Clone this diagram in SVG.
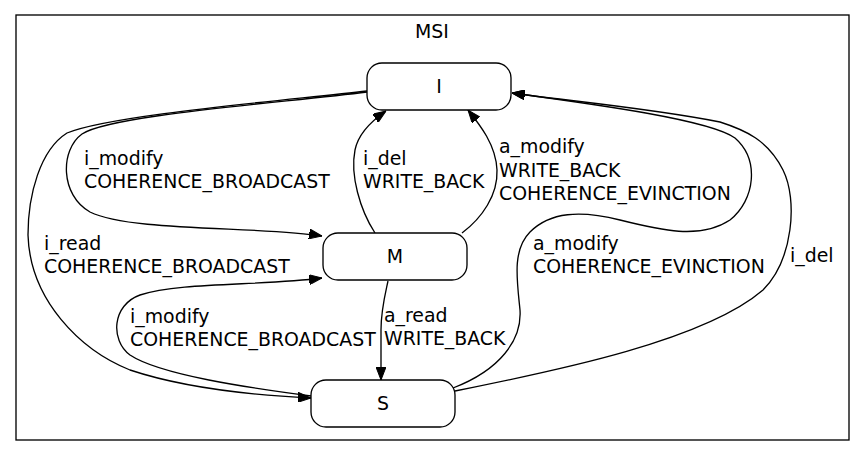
<svg xmlns="http://www.w3.org/2000/svg" width="865" height="456" viewBox="0 0 865 456">
<style>
text{font-family:"DejaVu Sans","Liberation Sans",sans-serif;font-size:18.9px;fill:#000}
.node rect{fill:#fff;stroke:#000;stroke-width:1.33}
.node text{text-anchor:middle}
#edges path{fill:none;stroke:#000;stroke-width:1.33;marker-end:url(#arr)}
.cluster{fill:none;stroke:#000;stroke-width:1.33}
</style>
<defs>
<marker id="arr" viewBox="0 0 13 10" refX="13" refY="5" markerWidth="13" markerHeight="10" markerUnits="userSpaceOnUse" orient="auto">
<path d="M0,0 L13,5 L0,10 z" fill="#000" stroke="#000" stroke-width="1"/>
</marker>
</defs>
<rect width="865" height="456" fill="#fff"/>
<g id="cluster_MSI">
<rect class="cluster" x="16" y="15" width="833" height="425"/>
<text x="432" y="38" text-anchor="middle">MSI</text>
</g>
<g id="edges">
<path d="M367,91 C280,101 110,115 67,133 C40,150 28,195 28,235 C30,300 80,350 130,370 C190,390 270,396 311,398"/>
<path d="M367,92 C280,103 110,115 82,134 C60,150 60,195 90,212 C130,232 260,226 322,236"/>
<path d="M311,396 C250,388 160,375 130,355 C110,340 112,305 140,295 C180,282 260,286 322,278"/>
<path d="M375,233 C360,210 350,175 355,150 C358,135 370,122 386,111"/>
<path d="M462,233 C482,218 498,195 497,170 C496,145 480,125 468,110"/>
<path d="M388,281 C385,295 381,310 381,330 L381,380"/>
<path d="M453,388 C500,370 522,340 520,310 C517,280 512,250 530,232 C550,212 580,210 620,220 C660,230 700,240 730,220 C755,200 760,160 735,138 C710,120 600,105 512,93"/>
<path d="M455,391 C560,370 705,340 763,290 C793,260 798,200 783,170 C768,140 745,130 720,122 C650,108 560,100 512,93"/>
</g>
<g id="edge_labels">
<text x="84" y="165">i_modify</text>
<text x="84" y="188">COHERENCE_BROADCAST</text>
<text x="44" y="250">i_read</text>
<text x="44" y="273">COHERENCE_BROADCAST</text>
<text x="130" y="323">i_modify</text>
<text x="130" y="346">COHERENCE_BROADCAST</text>
<text x="363" y="165">i_del</text>
<text x="363" y="188">WRITE_BACK</text>
<text x="499" y="153">a_modify</text>
<text x="499" y="177">WRITE_BACK</text>
<text x="499" y="200">COHERENCE_EVINCTION</text>
<text x="533" y="250">a_modify</text>
<text x="533" y="273">COHERENCE_EVINCTION</text>
<text x="790" y="262">i_del</text>
<text x="384" y="322">a_read</text>
<text x="384" y="345">WRITE_BACK</text>
</g>
<g id="node_I" class="node">
<rect x="367" y="63" width="144" height="47" rx="15" ry="15"/>
<text x="439" y="93">I</text>
</g>
<g id="node_M" class="node">
<rect x="323" y="233" width="144" height="47" rx="15" ry="15"/>
<text x="395" y="263">M</text>
</g>
<g id="node_S" class="node">
<rect x="311" y="380" width="144" height="47" rx="15" ry="15"/>
<text x="383" y="410">S</text>
</g>
</svg>
